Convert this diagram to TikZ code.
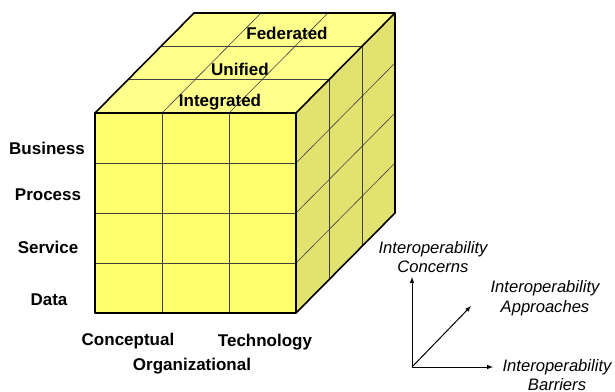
\documentclass[tikz,border=0pt]{standalone}
\usepackage{fontspec}
\setmainfont{Liberation Sans}
\usetikzlibrary{calc}
\begin{document}
\begin{tikzpicture}[x=1pt,y=-1pt,
  lbl/.style={font=\fontsize{17}{19}\selectfont\bfseries, inner sep=0pt},
  axlbl/.style={font=\fontsize{16.6}{19.5}\selectfont\itshape, align=center, inner sep=0pt},
  grid/.style={draw=black!75, line width=0.6pt},
  edge/.style={draw=black, line width=1.6pt, line join=round},
  axis/.style={draw=black, line width=1pt, -latex}]
\definecolor{frontc}{RGB}{255,255,110}
\definecolor{topc}{RGB}{255,255,140}
\definecolor{sidec}{RGB}{226,226,112}
\useasboundingbox (0,0) rectangle (615,391);
% corners
\coordinate (FTL) at (95,113);
\coordinate (FTR) at (296,113);
\coordinate (FBL) at (95,313);
\coordinate (FBR) at (296,313);
\coordinate (BTL) at (194,13);
\coordinate (BTR) at (395,13);
\coordinate (BBR) at (395,213);
% faces
\fill[frontc] (FTL) -- (FTR) -- (FBR) -- (FBL) -- cycle;
\fill[topc] (FTL) -- (FTR) -- (BTR) -- (BTL) -- cycle;
\fill[sidec] (FTR) -- (BTR) -- (BBR) -- (FBR) -- cycle;
% grids
\foreach \c in {1,2}{
  \draw[grid] ($(FTL)!\c/3!(FTR)$) -- ($(FBL)!\c/3!(FBR)$);
  \draw[grid] ($(FTL)!\c/3!(BTL)$) -- ($(FTR)!\c/3!(BTR)$);
  \draw[grid] ($(FTL)!\c/3!(FTR)$) -- ($(BTL)!\c/3!(BTR)$);
  \draw[grid] ($(FTR)!\c/3!(BTR)$) -- ($(FBR)!\c/3!(BBR)$);
}
\foreach \r in {1,2,3}{
  \draw[grid] ($(FTL)!\r/4!(FBL)$) -- ($(FTR)!\r/4!(FBR)$);
  \draw[grid] ($(FTR)!\r/4!(FBR)$) -- ($(BTR)!\r/4!(BBR)$);
}
% edges
\draw[edge] (FTL) -- (FTR) -- (FBR) -- (FBL) -- cycle;
\draw[edge] (FTL) -- (BTL) -- (BTR) -- (FTR);
\draw[edge] (BTR) -- (BBR) -- (FBR);
% top labels
\node[lbl] (fed) at (287,33) {Federated};
\node[lbl] (uni) at (240,69) {Unified};
\node[lbl] (int) at (220,102) {Integrated};
% row labels
\node[lbl] (bus) at (47,148) {Business};
\node[lbl] (pro) at (48,195) {Process};
\node[lbl] (ser) at (48,247) {Service};
\node[lbl] (dat) at (49,300) {Data};
% column labels
\node[lbl] (con) at (128,341) {Conceptual};
\node[lbl] (tec) at (265,342) {Technology};
\node[lbl] (org) at (192,366) {Organizational};
% axes
\coordinate (O) at (412,367);
\coordinate (up) at (412,277);
\coordinate (rt) at (493,367);
\coordinate (dg) at (471,306);
\draw[axis] (O) -- (up);
\draw[axis] (O) -- (rt);
\draw[axis] (O) -- (dg);
\node[axlbl] (cc) at (433,257) {Interoperability\\Concerns};
\node[axlbl] (ap) at (545,298) {Interoperability\\Approaches};
\node[axlbl] (ba) at (557,375) {Interoperability\\Barriers};
\end{tikzpicture}
\end{document}
